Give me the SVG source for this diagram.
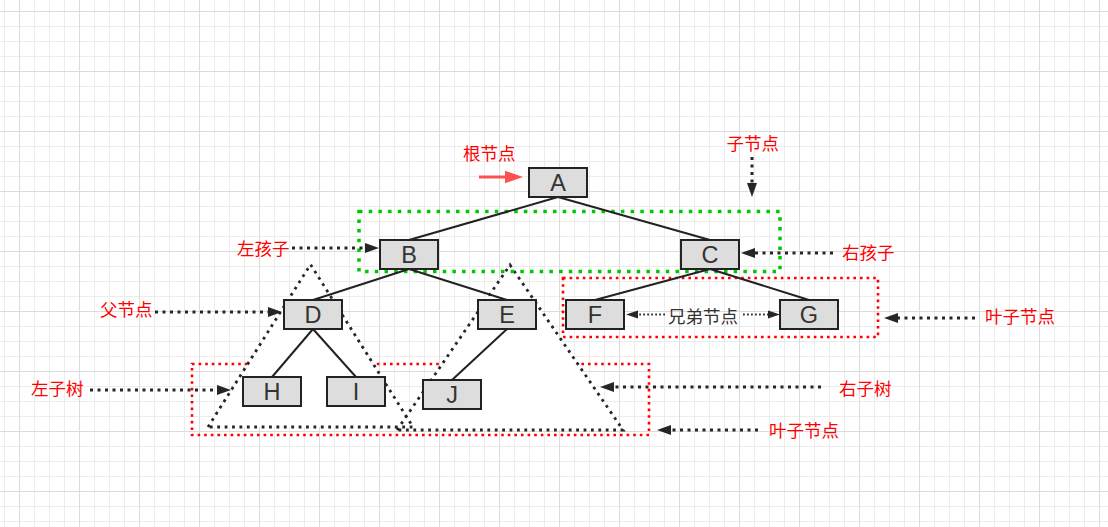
<svg xmlns="http://www.w3.org/2000/svg" width="1108" height="527" viewBox="0 0 1108 527">
<style>
.node rect{fill:#dddddd;stroke:#222222;stroke-width:2}
.node text{font-family:"Liberation Sans",Arial,sans-serif;font-size:23.5px;fill:#333333;text-anchor:middle}
.edge{stroke:#222222;stroke-width:2;fill:none}
.dot{stroke:#262626;stroke-width:3;stroke-dasharray:3 4.5;fill:none}
.thin{stroke:#333333;stroke-width:1.8;stroke-dasharray:1.8 2.2;fill:none}
.lbl{font-family:"Noto Sans CJK SC","Noto Sans",sans-serif;font-size:17.5px;fill:#ff0000;dominant-baseline:central}
.lbl2{font-family:"Noto Sans CJK SC","Noto Sans",sans-serif;font-size:17.5px;fill:#333333;dominant-baseline:central}
.redbox{fill:none;stroke:#ff0000;stroke-width:2.6;stroke-dasharray:2.6 4}
.greenbox{fill:none;stroke:#00c800;stroke-width:3.5;stroke-dasharray:3.5 6.2}
.tri{stroke:#262626;stroke-width:2.8;stroke-dasharray:2.8 4.6;fill:none}
</style>
<defs>
<pattern id="gmin" x="4" y="11" width="15" height="15" patternUnits="userSpaceOnUse">
<path d="M0 0.5H15M0.5 0V15" stroke="#ececec" stroke-width="1" fill="none"/>
</pattern>
<pattern id="gmaj" x="19" y="11" width="60" height="60" patternUnits="userSpaceOnUse">
<path d="M0 0.5H60M0.5 0V60" stroke="#dcdcdc" stroke-width="1" fill="none"/>
</pattern>
<marker id="blk" markerUnits="userSpaceOnUse" markerWidth="16" markerHeight="12" viewBox="0 -6 16 12" refX="0" refY="0" orient="auto" overflow="visible">
<path d="M0,-5 L14,0 L0,5 Z" fill="#262626" stroke="none"/>
</marker>
<marker id="sm" markerUnits="userSpaceOnUse" markerWidth="14" markerHeight="10" viewBox="0 -5 14 10" refX="0" refY="0" orient="auto" overflow="visible">
<path d="M0,-4 L12,0 L0,4 Z" fill="#262626" stroke="none"/>
</marker>
<marker id="redh" markerUnits="userSpaceOnUse" markerWidth="20" markerHeight="14" viewBox="0 -7 20 14" refX="0" refY="0" orient="auto" overflow="visible">
<path d="M0,-6.3 L18,0 L0,6.3 Z" fill="#ff5050" stroke="none"/>
</marker>
</defs>
<rect width="1108" height="527" fill="#ffffff"/>
<rect width="1108" height="527" fill="url(#gmin)"/>
<rect width="1108" height="527" fill="url(#gmaj)"/>

<g id="groups">
<rect id="leaf-box-right" class="redbox" x="563" y="278" width="315" height="59"/>
<rect id="leaf-box-bottom" class="redbox" x="192" y="364" width="457" height="71"/>
<g id="subtrees">
<polygon points="310.5,264.5 208,427 413,427" fill="#ffffff" stroke="none"/>
<polygon points="510,265 397,430 623,430" fill="#ffffff" stroke="none"/>
<polyline id="left-subtree" class="tri" points="208,427 310.5,264.5 413,427 208,427"/>
<polyline id="right-subtree" class="tri" points="397,430 510,265 623,430 397,430"/>
</g>
<rect id="child-box" class="greenbox" x="359" y="211.5" width="421" height="60"/>
</g>

<g id="connectors">
<line class="edge" x1="558" y1="197" x2="409" y2="240"/>
<line class="edge" x1="558" y1="197" x2="710" y2="240"/>
<line class="edge" x1="409" y1="269" x2="313" y2="300"/>
<line class="edge" x1="409" y1="269" x2="507" y2="300"/>
<line class="edge" x1="710" y1="269" x2="595" y2="300"/>
<line class="edge" x1="710" y1="269" x2="809" y2="300"/>
<line class="edge" x1="313" y1="329" x2="272" y2="377"/>
<line class="edge" x1="313" y1="329" x2="356" y2="377"/>
<line class="edge" x1="507" y1="329" x2="452" y2="380"/>
</g>

<g id="node-A" class="node"><rect x="529" y="168" width="58" height="29"/><text x="558" y="191">A</text></g>
<g id="node-B" class="node"><rect x="380" y="240" width="58" height="29"/><text x="409" y="263">B</text></g>
<g id="node-C" class="node"><rect x="681" y="240" width="58" height="29"/><text x="710" y="263">C</text></g>
<g id="node-D" class="node"><rect x="284" y="300" width="58" height="29"/><text x="313" y="323">D</text></g>
<g id="node-E" class="node"><rect x="478" y="300" width="58" height="29"/><text x="507" y="323">E</text></g>
<g id="node-F" class="node"><rect x="566" y="300" width="58" height="29"/><text x="595" y="323">F</text></g>
<g id="node-G" class="node"><rect x="780" y="300" width="58" height="29"/><text x="809" y="323">G</text></g>
<g id="node-H" class="node"><rect x="243" y="377" width="58" height="29"/><text x="272" y="400">H</text></g>
<g id="node-I" class="node"><rect x="327" y="377" width="58" height="29"/><text x="356" y="400">I</text></g>
<g id="node-J" class="node"><rect x="423" y="380" width="58" height="29"/><text x="452" y="403">J</text></g>

<g id="annotation-arrows">
<line x1="479" y1="177" x2="505" y2="177" stroke="#ff5050" stroke-width="3" marker-end="url(#redh)"/>
<line class="dot" x1="752" y1="157" x2="752" y2="183" marker-end="url(#blk)"/>
<line class="dot" x1="833" y1="253" x2="755" y2="253" marker-end="url(#blk)"/>
<line class="dot" x1="292" y1="248" x2="365" y2="248" marker-end="url(#blk)"/>
<line class="dot" x1="155" y1="312" x2="268" y2="312" marker-end="url(#blk)"/>
<line class="dot" x1="90" y1="390" x2="217" y2="390" marker-end="url(#blk)"/>
<line class="dot" x1="975" y1="318" x2="898" y2="318" marker-end="url(#blk)"/>
<line class="dot" x1="821" y1="387" x2="614" y2="387" marker-end="url(#blk)"/>
<line class="dot" x1="758" y1="430" x2="671" y2="430" marker-end="url(#blk)"/>
<line class="thin" x1="665" y1="314.5" x2="638" y2="314.5" marker-end="url(#sm)"/>
<line class="thin" x1="743" y1="314.5" x2="768" y2="314.5" marker-end="url(#sm)"/>
</g>

<g id="labels">
<text class="lbl" x="463" y="152">根节点</text>
<text class="lbl" x="726.5" y="142.5">子节点</text>
<text class="lbl" x="237" y="247">左孩子</text>
<text class="lbl" x="842" y="251">右孩子</text>
<text class="lbl" x="100" y="308">父节点</text>
<text class="lbl" x="31" y="387.5">左子树</text>
<text class="lbl" x="985" y="315">叶子节点</text>
<text class="lbl2" x="668" y="315">兄弟节点</text>
<text class="lbl" x="839" y="387.5">右子树</text>
<text class="lbl" x="769" y="429.5">叶子节点</text>
</g>
</svg>
